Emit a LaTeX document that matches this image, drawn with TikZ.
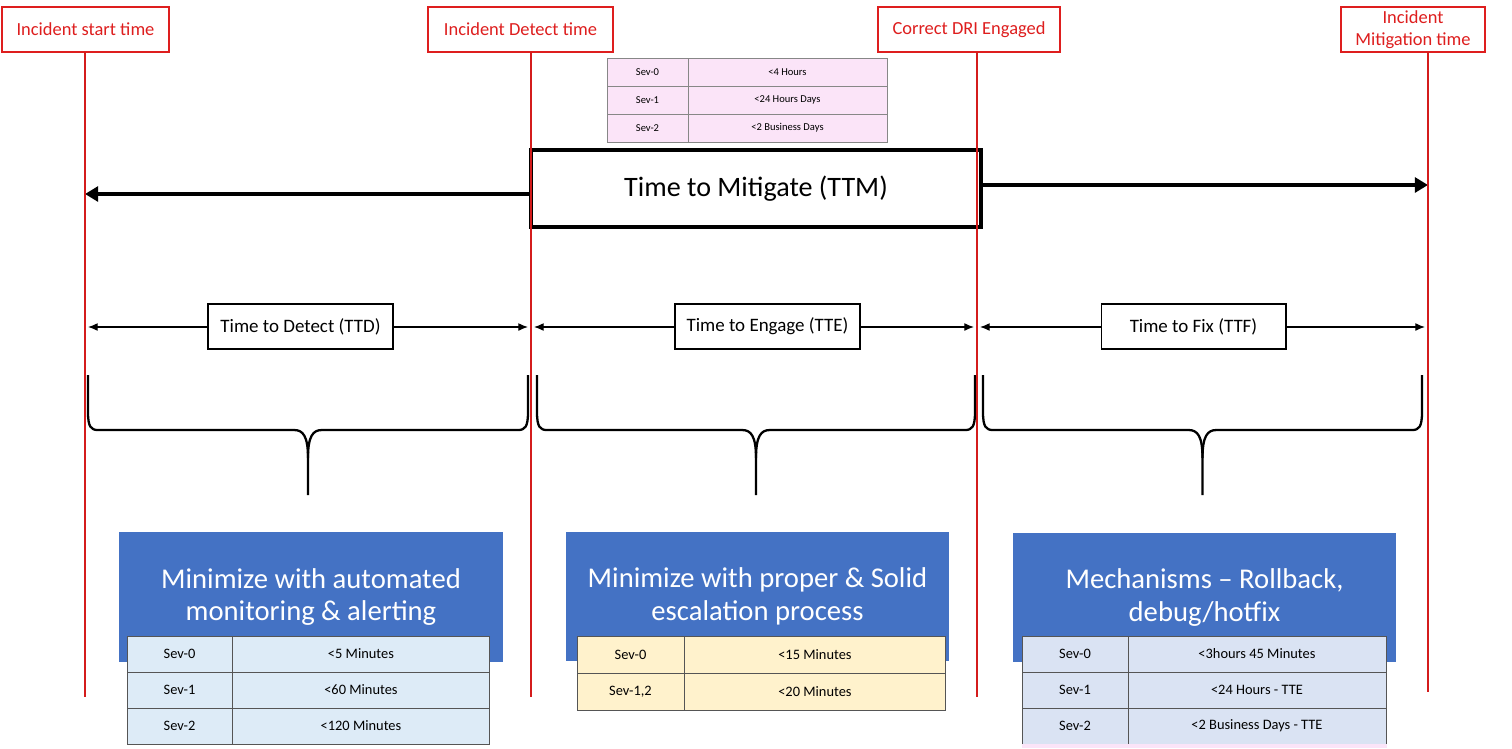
\documentclass[tikz,border=0pt]{standalone}
\usepackage{fontspec}
\setmainfont{Carlito}
\usetikzlibrary{positioning, arrows.meta}
\definecolor{EventRed}{RGB}{222, 30, 30}
\definecolor{LineRed}{RGB}{212, 28, 28}
\definecolor{OfficeBlue}{RGB}{68, 114, 196}
\definecolor{PaleBlue}{RGB}{221, 235, 247}
\definecolor{PaleYellow}{RGB}{255, 242, 204}
\definecolor{PaleLavender}{RGB}{218, 227, 243}
\definecolor{PalePink}{RGB}{251, 228, 248}
\definecolor{GridGray}{RGB}{85, 85, 85}
\definecolor{LightGrid}{RGB}{135, 135, 135}

\begin{document}
\begin{tikzpicture}[
    x=0.02cm, y=-0.02cm,
    every node/.style={align=center, inner sep=0pt, outer sep=0pt},
    eventbox/.style={draw=EventRed, line width=0.9pt, fill=white, text=EventRed, font=\fontsize{10.5}{12.8}\selectfont, minimum height=0.9cm},
    ttmbox/.style={draw=black, line width=2.3pt, fill=white, font=\fontsize{16}{19}\selectfont, minimum width=9cm, minimum height=1.54cm},
    spanlabel/.style={draw=black, line width=0.6pt, fill=white, font=\fontsize{10.8}{13}\selectfont, minimum width=3.7cm, minimum height=0.9cm},
    bluebox/.style={fill=OfficeBlue, text=white, font=\fontsize{16.3}{18.7}\selectfont, minimum width=7.68cm, minimum height=2.6cm},
    sevcell/.style={draw=GridGray, line width=0.5pt, anchor=north west, font=\fontsize{8.2}{10}\selectfont},
    pinkcell/.style={draw=LightGrid, line width=0.5pt, fill=PalePink, anchor=north west, font=\fontsize{6}{7}\selectfont, minimum height=0.56cm},
    timeline/.style={draw=LineRed, line width=1.1pt},
    bigarrow/.style={draw, line width=2.3pt, -{Triangle[length=7.5pt, width=8.5pt]}},
    spanarrow/.style={draw, line width=0.7pt, {Latex[length=5.5pt, width=4.5pt]}-{Latex[length=5.5pt, width=4.5pt]}, shorten <=0.06cm, shorten >=0.06cm},
    bracepath/.style={draw, line width=1.3pt}
  ]
  \useasboundingbox (0,0) rectangle (1512,748);

  % event markers
  \node[eventbox, minimum width=3.34cm] (start) at (85.5,29.5) {Incident start time};
  \node[eventbox, minimum width=3.7cm] (detect) at (520.5,29.5) {Incident Detect time};
  \node[eventbox, minimum width=3.64cm] (dri) at (969,29.5) {Correct DRI Engaged};
  \node[eventbox, minimum width=2.88cm] (mitig) at (1413,29.5) {Incident\\Mitigation time};
  \coordinate (t0) at (start.south -| 85,0);
  \coordinate (t1) at (detect.south -| 531,0);
  \coordinate (t2) at (dri.south -| 977,0);
  \coordinate (t3) at (mitig.south -| 1428,0);

  % engage targets
  \foreach \sev/\lim [count=\r from 0] in {Sev-0/<4 Hours, Sev-1/<24 Hours Days, Sev-2/<2 Business Days} {
    \node[pinkcell, minimum width=1.62cm] (eng-\r-sev) at (607,58+28*\r) {\sev};
    \node[pinkcell, minimum width=3.98cm] (eng-\r-lim) at (eng-\r-sev.north east) {\lim};
  }

  \node[ttmbox] (ttm) at (756,188.5) {Time to Mitigate (TTM)};
  \draw[bigarrow] (ttm.west |- 0,194) -- (t0 |- 0,194);
  \draw[bigarrow] (ttm.east |- 0,185) -- (t3 |- 0,185);

  \draw[spanarrow] (t0 |- 0,327) -- (t1 |- 0,327);
  \draw[spanarrow] (t1 |- 0,327) -- (t2 |- 0,327);
  \draw[spanarrow] (t2 |- 0,327) -- (t3 |- 0,327);
  \node[spanlabel] (ttd) at (300.5,326.5) {Time to Detect (TTD)};
  \node[spanlabel] (tte) at (767.5,326.5) {Time to Engage (TTE)};
  \node[spanlabel] (ttf) at (1193.5,326.5) {Time to Fix (TTF)};

  \foreach \a/\b in {88/528, 537/975, 983/1422} {
    \pgfmathsetmacro{\m}{(\a+\b)/2}
    \draw[bracepath] (\a,375) -- (\a,412) .. controls (\a,427) and (\a+3,430) .. (\a+10,430)
      -- (\m-14,430) .. controls (\m-5,430) and (\m,436) .. (\m,458) -- (\m,495);
    \draw[bracepath] (\b,375) -- (\b,412) .. controls (\b,427) and (\b-3,430) .. (\b-10,430)
      -- (\m+14,430) .. controls (\m+5,430) and (\m,436) .. (\m,458);
  }

  \node[bluebox] (detectbox) at (311,597) {Minimize with automated\\monitoring \& alerting};
  \node[bluebox] (engagebox) at (757.5,596.5) {Minimize with proper \& Solid\\escalation process};
  \node[bluebox] (fixbox) at (1204.5,597.5) {Mechanisms -- Rollback,\\debug/hotfix};

  \foreach \sev/\lim [count=\r from 0] in {Sev-0/<5 Minutes, Sev-1/<60 Minutes, Sev-2/<120 Minutes} {
    \node[sevcell, fill=PaleBlue, minimum width=2.1cm, minimum height=0.72cm] (ttd-\r-sev) at (127,636+36*\r) {\sev};
    \node[sevcell, fill=PaleBlue, minimum width=5.16cm, minimum height=0.72cm] (ttd-\r-lim) at (ttd-\r-sev.north east) {\lim};
  }
  \foreach \sev/\lim [count=\r from 0] in {Sev-0/<15 Minutes, {Sev-1,2}/<20 Minutes} {
    \node[sevcell, fill=PaleYellow, minimum width=2.14cm, minimum height=0.74cm] (tte-\r-sev) at (577,636+37*\r) {\sev};
    \node[sevcell, fill=PaleYellow, minimum width=5.24cm, minimum height=0.74cm] (tte-\r-lim) at (tte-\r-sev.north east) {\lim};
  }
  \foreach \sev/\lim [count=\r from 0] in {Sev-0/<3hours 45 Minutes, Sev-1/<24 Hours - TTE, Sev-2/<2 Business Days - TTE} {
    \node[sevcell, fill=PaleLavender, minimum width=2.12cm, minimum height=0.72cm] (ttf-\r-sev) at (1022,636+36*\r) {\sev};
    \node[sevcell, fill=PaleLavender, minimum width=5.16cm, minimum height=0.72cm] (ttf-\r-lim) at (ttf-\r-sev.north east) {\lim};
  }
  \fill[PalePink] (ttf-2-sev.south west) rectangle (1387,748);

  \draw[timeline] (t0) -- (t0 |- 0,697);
  \draw[timeline] (t1) -- (t1 |- 0,697);
  \draw[timeline] (t2) -- (t2 |- 0,697);
  \draw[timeline] (t3) -- (t3 |- 0,692);
\end{tikzpicture}
\end{document}
